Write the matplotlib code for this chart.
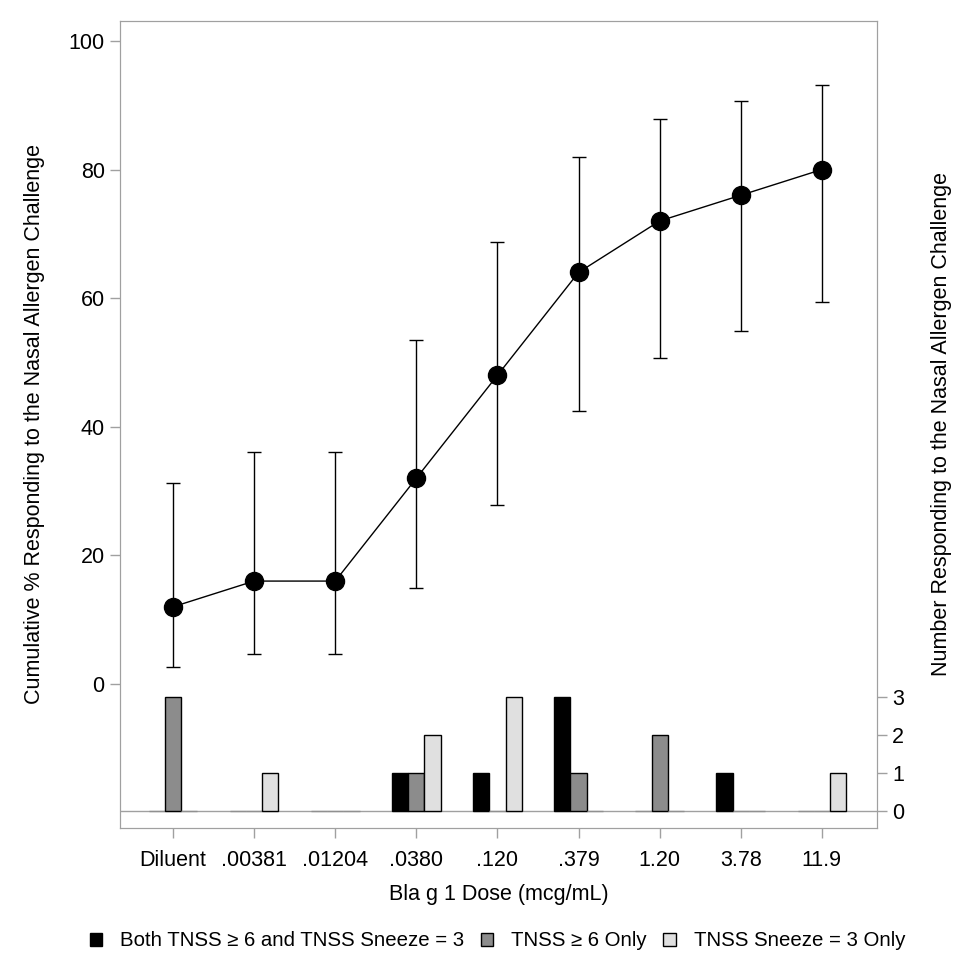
import numpy as np
import matplotlib
matplotlib.use("Agg")
import matplotlib.pyplot as plt

plt.rcParams["font.family"] = ["Liberation Sans", "DejaVu Sans"]

# ---------------------------------------------------------------------------
# Data
# ---------------------------------------------------------------------------
doses = ["Diluent", ".00381", ".01204", ".0380", ".120", ".379", "1.20", "3.78", "11.9"]
cum_pct = [12, 16, 16, 32, 48, 64, 72, 76, 80]
ci_low = [2.6, 4.6, 4.6, 15.0, 27.8, 42.5, 50.7, 54.9, 59.4]
ci_high = [31.2, 36.1, 36.1, 53.5, 68.7, 82.0, 87.9, 90.7, 93.2]

n_both = [0, 0, 0, 1, 1, 3, 0, 1, 0]
n_tnss = [3, 0, 0, 1, 0, 1, 2, 0, 0]
n_sneeze = [0, 1, 0, 2, 3, 0, 0, 0, 1]

legend_labels = ["Both TNSS \u2265 6 and TNSS Sneeze = 3", "TNSS \u2265 6 Only", "TNSS Sneeze = 3 Only"]
bar_colors = ["#000000", "#8c8c8c", "#e0e0e0"]

# ---------------------------------------------------------------------------
# Plot
# ---------------------------------------------------------------------------
W, H = 973, 973
fig = plt.figure(figsize=(W / 100, H / 100), dpi=100)
ax = fig.add_axes([120 / W, 1 - 828 / H, (877 - 120) / W, (828 - 21) / H])
ax2 = ax.twinx()

x = np.arange(len(doses))
spine_col = "#a0a0a0"
fs = 15.5

# main line with CI
yerr = [np.array(cum_pct) - np.array(ci_low), np.array(ci_high) - np.array(cum_pct)]
ax.errorbar(x, cum_pct, yerr=yerr, fmt="o-", color="black", ms=13, lw=1,
            elinewidth=1, capsize=5, capthick=1, zorder=5)
ax.set_ylim(-22.4, 103.1)
ax.set_yticks([0, 20, 40, 60, 80, 100])
ax.set_xlim(-0.654, 8.68)
ax.set_xticks(x)
ax.set_xticklabels(doses)

# bars on right axis (zero-count bars show only as a faint line)
bw = 0.2
for k, (vals, col) in enumerate(zip([n_both, n_tnss, n_sneeze], bar_colors)):
    edges = ["black" if v > 0 else "#909090" for v in vals]
    ax2.bar(x + (k - 1) * bw, vals, width=bw, color=col, edgecolor=edges,
            linewidth=1, label=legend_labels[k], zorder=3)
ax2.axhline(0, color=spine_col, lw=1)
ax2.set_ylim(-0.447, 20.79)
ax2.set_yticks([0, 1, 2, 3])

for a in (ax, ax2):
    for s in a.spines.values():
        s.set_color(spine_col)
    a.tick_params(colors=spine_col, labelcolor="black", labelsize=fs, length=7, width=1, pad=4)
ax.tick_params(axis="x", pad=9)

ax.set_xlabel("Bla g 1 Dose (mcg/mL)", fontsize=fs, labelpad=9)
ax.set_ylabel("Cumulative % Responding to the Nasal Allergen Challenge", fontsize=fs)
ax2.set_ylabel("Number Responding to the Nasal Allergen Challenge", fontsize=fs)
ax.yaxis.set_label_coords((45 - 120) / 757, 0.5)
ax2.yaxis.set_label_coords((931 - 120) / 757, 0.5)

handles, labels = ax2.get_legend_handles_labels()
leg = fig.legend(handles, labels, loc="center", bbox_to_anchor=(497.5 / W, 1 - 941 / H), ncol=3,
                 frameon=False, fontsize=14.7, handlelength=0.6, handleheight=0.6,
                 handletextpad=0.9, columnspacing=0.8)
for h in leg.legend_handles:
    h.set_edgecolor("black")

fig.savefig("out.png", dpi=100)
